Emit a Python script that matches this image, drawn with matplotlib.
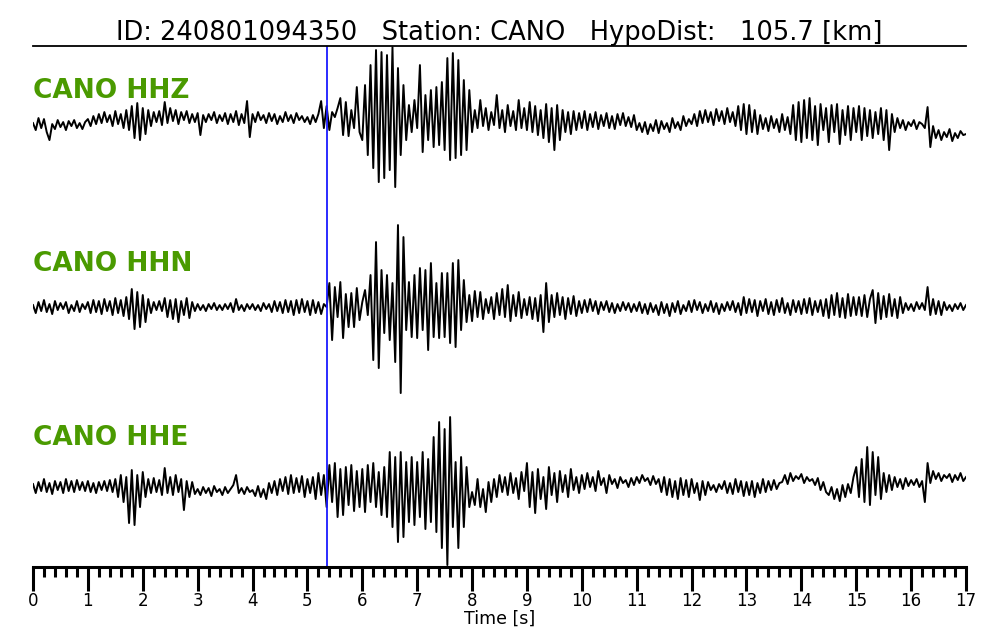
import numpy as np
import matplotlib
matplotlib.use("Agg")
import matplotlib.pyplot as plt

# header info
event_id = "240801094350"
station = "CANO"
hypo_dist = 105.7
pick_time = 5.357  # s, blue marker

channels = ["HHZ", "HHN", "HHE"]

# traces, 20 samples per second (amplitude, arbitrary units, positive up)
hhz = [
    -3, -10, 2, -8, 1, -12, -20, -4, -9, 0, -7, -2, -10, -1, -6, 0, -8, -3, -9, -2,
    1, -6, 4, -4, 6, -3, 8, -2, 5, -6, 9, -4, 6, -8, 10, -10, 14, -18, 17, -20,
    12, -14, 10, -6, 8, -2, 9, -5, 18, -3, 12, -1, 10, -4, 8, 0, 9, -3, 6, -2,
    7, -15, 5, -2, 6, 0, 8, -3, 5, -1, 7, -4, 6, -2, 9, -5, 6, -3, 19, -17,
    6, -2, 8, 0, 5, -3, 7, -1, 6, -4, 4, -2, 8, -1, 5, -3, 7, 0, 4, -2,
    3, -4, 5, -2, 6, 19, -8, 14, -10, 8, 3, 12, 22, -15, 18, -16, 10, -8, 33, -12,
    -20, 35, -35, 55, -48, 70, -62, 68, -58, 65, -50, 73, -67, 52, -35, 35, -20, 15, -12, 20,
    -8, 55, -32, 25, -20, 30, -27, 33, -25, 38, -30, 62, -40, 67, -38, 60, -35, 40, -30, 30,
    -12, 10, -8, 20, -6, 12, -10, 8, -5, 25, -8, 10, -12, 15, -6, 9, -10, 20, -8, 12,
    -10, 18, -12, 14, -15, 10, -18, 16, -22, 12, -30, 15, -20, 10, -12, 8, -14, 9, -10, 7,
    -8, 9, -10, 6, -7, 8, -9, 5, -6, 7, -8, 4, -9, 6, -5, 7, -6, 3, -7, 5,
    -10, -3, -12, -2, -14, -4, -11, 0, -13, -1, -9, -3, -12, 2, -8, -2, -10, 4, -6, 1,
    -4, 6, -6, 9, -3, 10, -2, 8, -5, 11, -1, 9, -4, 12, -2, 8, -6, 14, -10, 16,
    -14, 15, -12, 10, -14, 5, -9, 2, -11, 4, -8, 1, -12, 6, -10, 3, -14, 15, -20, 18,
    -22, 20, -18, 22, -20, 14, -25, 16, -10, 12, -22, 15, -12, 16, -24, 10, -15, 14, -20, 12,
    -12, 14, -20, 12, -16, 10, -18, 8, -14, 12, -20, 10, -30, 6, -12, 2, -8, 0, -10, -2,
    -6, 0, -9, -2, -4, -8, 13, -27, -6, -18, -10, -20, -12, -17, -9, -21, -13, -18, -11, -15, -14,
]
hhn = [
    2, -6, 5, -4, 7, -5, 3, -7, 6, -3, 4, -2, 5, -6, 2, -4, 6, -5, 3, -2,
    5, -6, 7, -5, 6, -7, 8, -4, 6, -8, 9, -6, 7, -9, 10, -12, 18, -22, 15, -20,
    12, -15, 8, -6, 5, -3, 6, -4, 9, -10, 7, -12, 8, -15, 6, -8, 9, -11, 5, -4,
    3, -3, 2, -4, 3, -2, 4, -3, 2, -3, 3, -2, 4, -5, 8, -3, 2, -4, 3, -2,
    3, -3, 2, -4, 4, -2, 3, -5, 6, -4, 5, -6, 7, -5, 6, -8, 7, -6, 8, -5,
    6, -8, 7, -6, 5, -7, 3, 0, 24, -33, 20, -10, 25, -31, 13, -20, 14, -20, 19, -13,
    5, 17, -8, 32, -53, 65, -61, 37, -26, 32, -33, 24, -55, 82, -86, 70, -23, 25, -30, 32,
    -31, 39, -23, 37, -43, 44, -30, 24, -31, 34, -30, 34, -36, 44, -40, 47, -23, 27, -15, 12,
    -14, 16, -10, 15, -12, 8, -6, 10, -12, 14, -8, 18, -10, 22, -14, 12, -9, 15, -11, 8,
    -8, 10, -12, 9, -14, 12, -25, 24, -15, 12, -10, 14, -8, 10, -12, 9, -7, 11, -9, 6,
    -6, 7, -5, 8, -4, 6, -7, 5, -3, 6, -5, 4, -6, 3, -4, 5, -3, 4, -5, 3,
    -4, 5, -6, 3, -7, 4, -5, 2, -8, 5, -6, 3, -9, 4, -5, 6, -7, 2, -4, 6,
    -5, 7, -3, 5, -6, 3, -4, 6, -5, 4, -7, 3, -4, 5, -3, 6, -5, 4, -8, 10,
    -6, 8, -5, 7, -9, 6, -4, 8, -7, 5, -8, 7, -5, 9, -6, 4, -8, 7, -5, 6,
    -7, 8, -6, 9, -8, 6, -5, 7, -9, 8, -11, 12, -8, 14, -10, 9, -11, 13, -9, 10,
    -8, 10, -9, 12, -10, 8, 17, -16, 14, -12, 11, -10, 13, -9, 8, -11, 10, -6, 4, -3,
    3, -4, 5, -2, 4, -3, 20, -8, 8, -7, 6, -8, 5, -3, 2, -4, 3, -2, 4, -3, 2,
]
hhe = [
    3, -6, 5, -4, 8, -5, 4, -7, 6, -3, 5, -6, 8, -4, 6, -5, 7, -3, 5, -4,
    6, -5, 4, -6, 5, -3, 6, -4, 7, -5, 8, -10, 12, -15, 10, -36, 17, -38, 12, -20,
    15, -10, 8, -6, 9, -5, 7, -8, 19, -6, 10, -8, 12, -5, 8, -23, 6, -10, 5, -7,
    -2, -8, 0, -6, -1, -9, 1, -5, -2, -8, 0, -6, -2, 2, 12, -6, -1, -7, 0, -5,
    -3, -9, 1, -10, -2, -12, 4, -6, 6, -8, 8, -4, 10, -7, 12, -6, 9, -5, 11, -10,
    8, -6, 10, -12, 14, -8, 12, -20, 22, -15, 24, -30, 18, -28, 20, -18, 22, -24, 16, -20,
    18, -25, 22, -15, 24, -20, 15, -28, 20, -30, 35, -40, 30, -55, 35, -50, 25, -35, 30, -38,
    25, -30, 35, -42, 28, -35, 50, -45, 65, -61, 58, -78, 70, -40, 25, -61, 30, -40, 20, -20,
    -5, -18, 8, -20, -2, -25, 5, -15, 8, -10, 12, -5, 10, -8, 14, -6, 9, -12, 15, -4,
    24, -20, 15, -26, 18, -12, 10, -22, 20, -8, 14, -15, 16, -5, 12, -10, 18, -3, 10, -6,
    12, -2, 14, 0, 10, -4, 16, 2, 9, -6, 12, 3, 8, -1, 10, 4, 7, 0, 9, 2,
    10, 4, 12, 6, 9, 2, 11, 3, 8, -5, 10, -8, 8, -10, 6, -12, 9, -8, 7, -10,
    8, -6, 4, -13, 6, -8, 5, -3, 2, -5, 3, -2, 6, -6, 4, -7, 8, -5, 6, -9,
    5, -8, 6, -10, 4, -6, 8, -5, 6, -3, 7, -2, 4, 5, 12, 3, 14, 6, 11, 8,
    13, 4, 10, 6, 8, 2, 9, -3, 5, -5, -8, 0, -12, -2, -14, 2, -10, 3, -6, 10,
    20, -10, 28, -15, 40, -18, 35, -8, 30, -12, 14, -5, 12, -3, 10, 0, 8, -2, 9, 1,
    7, 2, 8, 0, 6, -15, 24, 4, 16, 8, 14, 6, 12, 9, 13, 5, 12, 7, 14, 6, 10,
]
traces = [hhz, hhn, hhe]

# vertical layout (axis units run top->bottom like the image)
baselines = [120, 307, 487]
label_y = [91, 264, 438]

fig = plt.figure(figsize=(10, 6.4), dpi=100)
ax = fig.add_axes([0.033, 0.114, 0.933, 0.814])

for tr, base in zip(traces, baselines):
    t = np.linspace(0, 17, len(tr))
    ax.plot(t, base - np.array(tr), color="black", lw=1.4)

for ch, ly in zip(channels, label_y):
    ax.text(0, ly, f"{station} {ch}", color="#4a9a00", fontsize=19,
            fontweight="bold", va="center", ha="left")

ax.axvline(pick_time, color="#1a1aff", lw=1.3)

ax.set_xlim(0, 17)
ax.set_ylim(567, 46)
ax.spines["left"].set_visible(False)
ax.spines["right"].set_visible(False)
ax.spines["top"].set_linewidth(1.3)
ax.spines["bottom"].set_linewidth(2.2)
ax.set_yticks([])

ax.set_xticks(np.arange(0, 18, 1))
ax.set_xticks(np.arange(0, 17.01, 0.2), minor=True)
ax.tick_params(axis="x", which="major", length=17, width=2.2, direction="out", pad=1,
               labelsize=12)
ax.tick_params(axis="x", which="minor", length=7, width=2.2, direction="out")
ax.set_xlabel("Time [s]", fontsize=12.5, labelpad=0)

ax.set_title(f"ID: {event_id}   Station: {station}   HypoDist:   {hypo_dist} [km]",
             fontsize=18.5, pad=4)

fig.savefig("out.png", dpi=100)
